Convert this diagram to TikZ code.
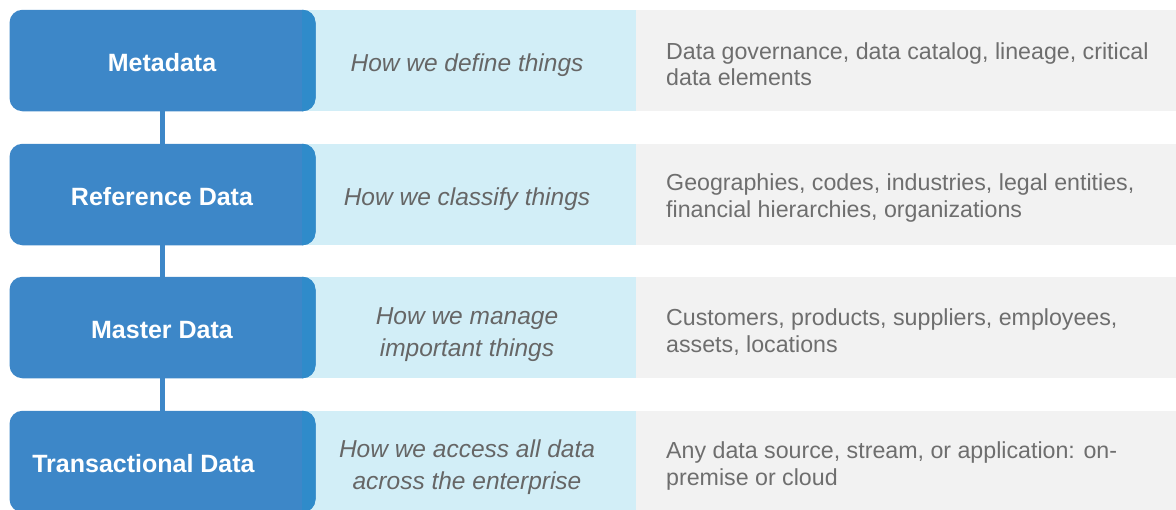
\documentclass[tikz,border=0pt]{standalone}
\usepackage{fontspec}
\setmainfont{Liberation Sans}
\definecolor{boxblue}{HTML}{3D87C8}
\definecolor{stripblue}{HTML}{2F8BCA}
\definecolor{lightblue}{HTML}{D2EEF7}
\definecolor{lightgray}{HTML}{F2F2F2}
\definecolor{midtext}{HTML}{666666}
\definecolor{righttext}{HTML}{6E6E6E}
\begin{document}
\begin{tikzpicture}[x=1pt,y=-1pt,
  catbox/.style={fill=boxblue, rounded corners=13pt, minimum width=306pt, minimum height=101.5pt, inner sep=0pt},
  cattxt/.style={text=white, inner sep=0pt, font=\fontsize{25}{28}\selectfont\bfseries},
  midband/.style={fill=lightblue, minimum width=334pt, minimum height=101.5pt, inner sep=0pt, anchor=north west},
  rightband/.style={fill=lightgray, minimum width=540pt, minimum height=101.5pt, inner sep=0pt, anchor=north west},
  midtxt/.style={text=midtext, align=center, inner sep=0pt, font=\fontsize{24.5}{32}\selectfont\itshape},
  righttxt/.style={text=righttext, align=left, inner sep=0pt, anchor=west, font=\fontsize{23.2}{26.5}\selectfont},
  conn/.style={draw=boxblue, line width=4.5pt}
]
\useasboundingbox (0,0) rectangle (1176,509);
% bands
\node[midband] (b1) at (302,9.5) {};
\node[rightband] (g1) at (636,9.5) {};
\node[midband] (b2) at (302,143.5) {};
\node[rightband] (g2) at (636,143.5) {};
\node[midband] (b3) at (302,276.5) {};
\node[rightband] (g3) at (636,276.5) {};
\node[midband] (b4) at (302,410.5) {};
\node[rightband] (g4) at (636,410.5) {};
% connectors
\coordinate (c1) at (162.5,60.5);
\coordinate (c2) at (162.5,194.5);
\coordinate (c3) at (162.5,327.5);
\coordinate (c4) at (162.5,461.5);
\draw[conn] (c1) -- (c2);
\draw[conn] (c2) -- (c3);
\draw[conn] (c3) -- (c4);
% category boxes
\node[catbox] (m1) at (c1) {};
\node[catbox] (m2) at (c2) {};
\node[catbox] (m3) at (c3) {};
\node[catbox] (m4) at (c4) {};
\foreach \n/\y in {1/9.75,2/143.75,3/276.75,4/410.75}{
  \begin{scope}
    \clip (302,\y) rectangle (320,\y+101.5);
    \fill[stripblue, rounded corners=13pt] (9.5,\y) rectangle (315.5,\y+101.5);
  \end{scope}
}
\node[cattxt] (t1) at (162,63) {Metadata};
\node[cattxt] (t2) at (162,197) {Reference Data};
\node[cattxt] (t3) at (162,330) {Master Data};
\node[cattxt] (t4) at (143.5,464) {Transactional Data};
% middle texts
\node[midtxt] (h1) at (467,65) {How we define things};
\node[midtxt] (h2) at (467,199) {How we classify things};
\node[midtxt] (h3) at (467,335) {How we manage\\important things};
\node[midtxt] (h4) at (467,467) {How we access all data\\across the enterprise};
% right texts
\node[righttxt] (r1) at (666,64) {Data governance, data catalog, lineage, critical\\data elements};
\node[righttxt] (r2) at (666,198) {Geographies, codes, industries, legal entities,\\financial hierarchies, organizations};
\node[righttxt] (r3) at (666,332) {Customers, products, suppliers, employees,\\assets, locations};
\node[righttxt] (r4) at (666,466) {Any data source, stream, or application: on-\\premise or cloud};
\end{tikzpicture}
\end{document}
